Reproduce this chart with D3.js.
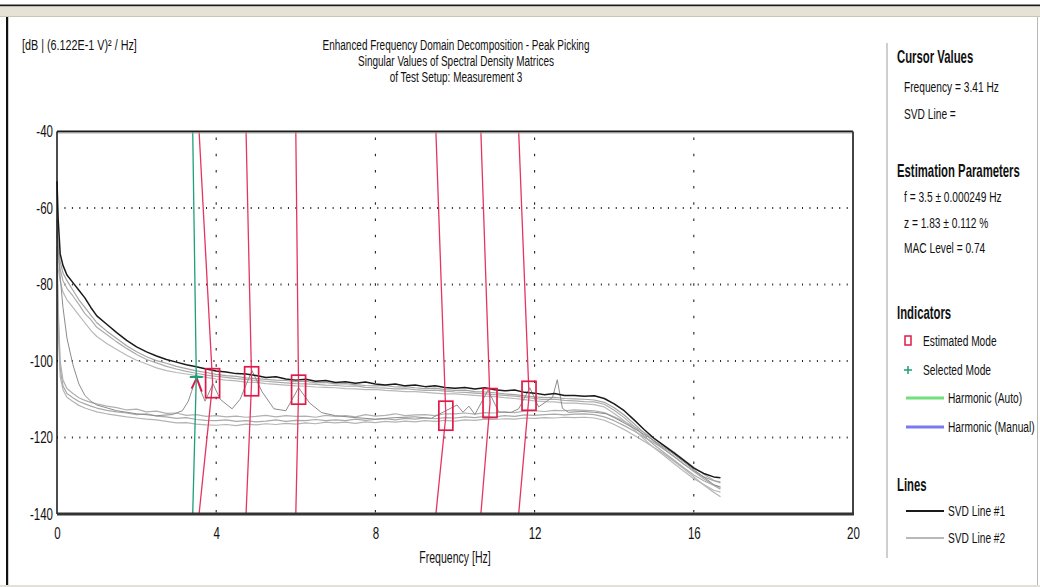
<!DOCTYPE html>
<html>
<head>
<meta charset="utf-8">
<script src="https://cdn.jsdelivr.net/npm/d3@7"></script>
<style>
  html, body { margin: 0; padding: 0; background: #fff; }
  svg { display: block; }
  text { font-family: "Liberation Sans", Arial, sans-serif; fill: #111; }
</style>
</head>
<body>
<svg id="chart" width="1040" height="587"></svg>
<script>
// ---- Frequency grid shared by the SVD lines (Hz) ----
const freqHz = [0, 0.03, 0.08, 0.15, 0.25, 0.4, 0.55, 0.7, 0.85,
  1, 1.25, 1.5, 1.75, 2, 2.25, 2.5, 2.75, 3, 3.25, 3.5, 3.75,
  4, 4.25, 4.5, 4.75, 5, 5.25, 5.5, 5.75, 6, 6.25, 6.5, 6.75,
  7, 7.25, 7.5, 7.75, 8, 8.25, 8.5, 8.75, 9, 9.25, 9.5, 9.75,
  10, 10.25, 10.5, 10.75, 11, 11.25, 11.5, 11.75, 12, 12.25, 12.5, 12.75,
  13, 13.25, 13.5, 13.75, 14, 14.25, 14.5, 14.75, 15, 15.25, 15.5, 15.75,
  16, 16.25, 16.5, 16.67];

// SVD line #1 (first singular value), dB
const svd1Db = [-53, -63, -72, -75, -77.5, -79.5, -81.5, -83.5, -86,
  -88.2, -90.4, -92.6, -94.6, -96.3, -97.6, -98.7, -99.6, -100.3, -101, -101.5, -102.1,
  -102.6, -102.9, -103.3, -103.4, -103.8, -104.3, -104.1, -104.7, -105, -104.8, -105.3, -105.1,
  -105.6, -105.4, -105.8, -105.5, -106, -106.3, -106, -106.5, -106.3, -106.7, -106.5, -106.9,
  -107.1, -106.9, -107.3, -107, -107.5, -107.8, -107.6, -108.2, -108.4, -108.8, -108.5, -109,
  -109, -109.2, -109.1, -109.8, -111.2, -113, -115.4, -117.9, -120.2, -122.1, -124, -126,
  -128, -129.4, -130.3, -130.5];

// Further singular values (SVD line #2 style), dB
const svdUpperA = [-63, -70, -74, -77, -79, -81.5, -84, -86, -88,
  -90, -92.2, -94.1, -96, -97.6, -98.9, -99.9, -100.6, -101.4, -102, -102.6, -103,
  -103.5, -103.8, -104, -104.4, -104.6, -104.8, -105, -105.1, -105.4, -105.3, -105.7, -105.6,
  -106, -105.9, -106.2, -106.4, -106.5, -106.4, -106.8, -106.7, -107, -107.2, -107.1, -107.5,
  -107.7, -107.6, -108, -108.1, -108.3, -108.6, -108.8, -109.1, -109.4, -109.6, -109.5, -109.8,
  -109.9, -110, -110.2, -110.8, -112.2, -114.1, -116.4, -118.8, -121, -123, -125, -127,
  -128.7, -130.3, -131.3, -131.6];
const svdUpperB = [-67, -73, -76, -79, -81, -83, -85.2, -87.6, -89.2,
  -91.2, -93.1, -95, -96.7, -98.3, -99.6, -100.5, -101.4, -102.1, -102.7, -103.2, -103.7,
  -104, -104.3, -104.6, -104.8, -105.1, -105.3, -105.5, -105.7, -105.9, -106, -106.1, -106.3,
  -106.4, -106.6, -106.5, -106.9, -107, -107.1, -107.3, -107.2, -107.5, -107.7, -107.6, -107.9,
  -108.1, -108.2, -108.4, -108.6, -108.8, -109, -109.2, -109.5, -109.8, -110.1, -110, -110.3,
  -110.4, -110.6, -110.7, -111.3, -112.9, -114.8, -117.1, -119.6, -121.9, -123.9, -125.9, -127.9,
  -129.8, -131.3, -132.5, -132.9];
const svdUpperC = [-71, -76, -79, -82, -84, -86, -88, -90, -92,
  -93.6, -95.4, -97, -98.5, -99.8, -100.8, -101.8, -102.5, -103, -103.4, -103.8, -104.3,
  -104.7, -105, -105.2, -105.5, -105.6, -105.9, -106.1, -106.3, -106.5, -106.6, -106.8, -106.9,
  -107, -107.2, -107.3, -107.5, -107.4, -107.7, -107.8, -108, -108, -108.2, -108.4, -108.6,
  -108.6, -108.8, -109, -109.2, -109.3, -109.6, -109.8, -110.1, -110.4, -110.6, -110.7, -111,
  -111, -111.2, -111.4, -112, -113.7, -115.6, -117.9, -120.4, -122.7, -124.7, -126.8, -128.8,
  -130.8, -132.3, -133.8, -134.3];
const svdLowerA = [-70, -86, -100, -105, -107.2, -108.5, -109.6, -110.3, -110.8,
  -111.2, -111.8, -112.2, -112.8, -112.6, -113.3, -113.1, -113.7, -113.6, -114.2, -114, -114.5,
  -114.3, -114.6, -114.4, -114.7, -114.5, -114.2, -114.6, -114.3, -114.5, -114.4, -114.7, -114.2,
  -114.5, -114.3, -114.6, -114, -114.4, -114.2, -113.8, -114.3, -114.1, -114, -114.3, -113.8,
  -113.8, -113.6, -113.9, -113.5, -113.6, -113.3, -113.5, -113.1, -113, -113.2, -112.9, -113,
  -112.8, -112.9, -113, -113.5, -114.6, -115.8, -117.2, -118.7, -120.3, -122, -123.8, -125.8,
  -127.8, -129.6, -131.2, -131.9];
const svdLowerB = [-72, -89, -102, -106.5, -108.5, -109.6, -110.6, -111.2, -111.8,
  -112.3, -112.9, -113.3, -113.6, -114, -113.8, -114.4, -114.6, -115, -114.8, -115.3, -115.5,
  -115.6, -115.4, -115.8, -115.6, -115.9, -115.7, -115.4, -115.8, -115.5, -115.6, -115.3, -115.6,
  -115.4, -115.6, -115.2, -115.5, -115.3, -115.1, -115.4, -115, -115.2, -114.9, -115.1, -114.8,
  -114.9, -114.6, -114.8, -114.5, -114.6, -114.3, -114.5, -114.1, -114.2, -114, -113.9, -114.1,
  -113.9, -113.8, -114, -114.6, -115.6, -116.9, -118.3, -119.9, -121.4, -123.1, -124.9, -126.9,
  -128.9, -130.8, -132.5, -133.5];
const svdLowerC = [-74, -92, -104, -107.5, -109.5, -110.6, -111.6, -112.3, -112.8,
  -113.3, -113.8, -114.2, -114.6, -114.9, -115.2, -115.4, -115.8, -116.2, -116.1, -116.5, -116.7,
  -116.8, -116.6, -116.9, -116.5, -116.7, -116.4, -116.6, -116.3, -116.5, -116.2, -116.4, -116,
  -116.2, -116, -116.3, -115.9, -116.1, -115.8, -116, -115.7, -115.9, -115.6, -115.8, -115.5,
  -115.7, -115.4, -115.5, -115.2, -115.3, -115.1, -115.2, -114.9, -115, -114.8, -114.9, -114.7,
  -114.8, -114.7, -114.9, -115.5, -116.6, -117.9, -119.4, -121, -122.6, -124.3, -126.2, -128.2,
  -130.3, -132.4, -134.3, -135.5];

// Singular value line carrying the mode peaks (own frequency grid)
const peakLineHz = [0, 0.08, 0.15, 0.25, 0.4, 0.55, 0.7, 0.85, 1.0,
  1.5, 2.0, 2.5, 2.9, 3.15, 3.3, 3.38, 3.5, 3.62, 3.72,
  3.92, 4.1, 4.4, 4.6, 4.9, 5.15, 5.45, 5.75, 6.07, 6.35,
  6.65, 7.0, 7.5, 8.0, 8.5, 9.0, 9.4, 9.77, 10.05, 10.2,
  10.35, 10.5, 10.83, 11.1, 11.4, 11.6, 11.88, 12.1, 12.45, 12.57,
  12.7, 12.85, 13.2, 13.5, 13.8,
  14.0, 14.5, 15, 15.5, 16, 16.5, 16.67];
const peakLineDb = [-66, -78, -86, -94, -101, -106, -109, -110.5, -111.5,
  -113, -113.8, -114.3, -114, -113, -110.5, -108, -104.5, -108, -110.5,
  -106, -110, -112.5, -110, -102.5, -108, -112.5, -113, -107, -111,
  -113.5, -114.3, -114.8, -115.2, -114.8, -114.6, -115, -113, -111.5, -113.4,
  -111.8, -114, -107.6, -113.3, -113.5, -112.5, -107, -112, -109.5, -104.9,
  -112.4, -113.4, -113.2, -113.4, -113.8,
  -114.8, -117.6, -120.8, -124.4, -128.4, -132.3, -133];

// Selected peak (highlighted part of the peak line)
const selectedPeakHz = [3.38, 3.51, 3.64];
const selectedPeakDb = [-107.2, -104.4, -108];

// Estimated modes: peak frequency / level and where each indicator meets the frame
const modeHz = [3.91, 4.89, 6.07, 9.77, 10.88, 11.86];
const modeDb = [-105.8, -105.3, -107.5, -114.3, -111.0, -109.1];
const modeBaseHz = [3.57, 4.75, 6.0, 9.52, 10.65, 11.6];

// Selected mode cursor
const cursorBaseHz = 3.41;
const selectedHz = 3.5;
const selectedDb = -104.2;

// Axis ticks
const xTicks = [0, 4, 8, 12, 16, 20];
const yTicks = [-40, -60, -80, -100, -120, -140];
const gridX = [4, 8, 12, 16];
const gridY = [-60, -80, -100, -120];

const titleLines = [
  "Enhanced Frequency Domain Decomposition - Peak Picking",
  "Singular Values of Spectral Density Matrices",
  "of Test Setup: Measurement 3"
];

// ---------------------------------------------------------------
const svg = d3.select("#chart");
const SX = 0.68; // horizontal compression of the narrow UI font

function label(parent, px, py, s, o = {}) {
  const t = parent.append("text")
    .attr("transform", `translate(${px},${py}) scale(${o.sx || SX},1)`)
    .attr("text-anchor", o.anchor || "start")
    .attr("font-size", o.size || 15)
    .attr("font-weight", o.weight || "normal")
    .text(s);
  if (o.fill) t.style("fill", o.fill);
  return t;
}

// window frame
svg.append("rect").attr("x", 0).attr("y", 4.5).attr("width", 1040).attr("height", 2).attr("fill", "#1c1c1c");
svg.append("rect").attr("x", 0).attr("y", 6.5).attr("width", 1040).attr("height", 9.5).attr("fill", "#e6e3d6");
svg.append("rect").attr("x", 0).attr("y", 16).attr("width", 1040).attr("height", 1).attr("fill", "#c9c6b9");
svg.append("rect").attr("x", 6).attr("y", 17).attr("width", 2.2).attr("height", 568).attr("fill", "#111");
svg.append("rect").attr("x", 0).attr("y", 585).attr("width", 1040).attr("height", 2).attr("fill", "#e2e0d8");
svg.append("rect").attr("x", 1037).attr("y", 17).attr("width", 1).attr("height", 568).attr("fill", "#b8b8b8");
svg.append("rect").attr("x", 886.5).attr("y", 43).attr("width", 1).attr("height", 515).attr("fill", "#a0a0a0");

// scales
const x = d3.scaleLinear().domain([0, 20]).range([57, 853]);
const y = d3.scaleLinear().domain([-140, -40]).range([514, 131.5]);

// titles
titleLines.forEach((s, i) => label(svg, 456, 50 + i * 16, s, { anchor: "middle", size: 15, sx: 0.665 }));
label(svg, 22, 50, "[dB | (6.122E-1 V)\u00b2 / Hz]", { size: 15, sx: 0.72 });

// grid
const grid = svg.append("g");
grid.selectAll("line.gy").data(gridY).join("line")
  .attr("x1", x(0)).attr("x2", x(20))
  .attr("y1", d => y(d)).attr("y2", d => y(d))
  .attr("stroke", "#222").attr("stroke-width", 2.2)
  .attr("stroke-dasharray", "1 6.45");
grid.selectAll("line.gx").data(gridX).join("line")
  .attr("x1", d => x(d)).attr("x2", d => x(d))
  .attr("y1", y(-40) + 6).attr("y2", y(-140))
  .attr("stroke", "#222").attr("stroke-width", 1.1)
  .attr("stroke-dasharray", "2.5 13.7");

// curves
const line = d3.line().x(d => x(d[0])).y(d => y(d[1]));
const plot = svg.append("g");
const greyLines = [svdLowerC, svdLowerB, svdLowerA, svdUpperC, svdUpperB, svdUpperA];
const greyCols = ["#b4b4b4", "#a9a9a9", "#b0b0b0", "#b8b8b8", "#acacac", "#a4a4a4"];
greyLines.forEach((vals, i) => {
  plot.append("path").datum(freqHz.map((f, j) => [f, vals[j]]))
    .attr("d", line).attr("fill", "none")
    .attr("stroke", greyCols[i]).attr("stroke-width", 1.2).attr("stroke-linejoin", "round");
});
plot.append("path").datum(peakLineHz.map((f, j) => [f, peakLineDb[j]]))
  .attr("d", line).attr("fill", "none")
  .attr("stroke", "#8c8c8c").attr("stroke-width", 1).attr("stroke-linejoin", "round");
plot.append("path").datum(freqHz.map((f, j) => [f, svd1Db[j]]))
  .attr("d", line).attr("fill", "none")
  .attr("stroke", "#1a1a1a").attr("stroke-width", 1.5).attr("stroke-linejoin", "round");

// selected peak highlight
plot.append("path").datum(selectedPeakHz.map((f, j) => [f, selectedPeakDb[j]]))
  .attr("d", line).attr("fill", "none").attr("stroke", "#e0184a").attr("stroke-width", 1.8);

// mode indicator lines
modeHz.forEach((f, i) => {
  plot.append("path")
    .datum([[modeBaseHz[i], -40], [f, modeDb[i]], [modeBaseHz[i], -140]])
    .attr("d", line).attr("fill", "none")
    .attr("stroke", "#e63462").attr("stroke-width", 1.3);
});
plot.append("path")
  .datum([[cursorBaseHz, -40], [selectedHz, selectedDb], [cursorBaseHz, -140]])
  .attr("d", line).attr("fill", "none")
  .attr("stroke", "#1e9f78").attr("stroke-width", 1.3);

// estimated mode boxes
plot.selectAll("rect.mode").data(modeHz.map((f, i) => [f, modeDb[i]])).join("rect")
  .attr("x", d => x(d[0]) - 7).attr("y", d => y(d[1]) - 14.5)
  .attr("width", 14).attr("height", 29)
  .attr("fill", "none").attr("stroke", "#e01a48").attr("stroke-width", 1.7);

// selected mode cross
plot.append("path")
  .attr("d", `M${x(selectedHz) - 6.5},${y(selectedDb)}H${x(selectedHz) + 6.5}M${x(selectedHz)},${y(selectedDb) - 3}V${y(selectedDb) + 3}`)
  .attr("stroke", "#1e9f78").attr("stroke-width", 2);

// plot frame
const frame = svg.append("g");
frame.append("line").attr("x1", x(0)).attr("x2", x(20)).attr("y1", y(-40)).attr("y2", y(-40))
  .attr("stroke", "#1a1a1a").attr("stroke-width", 2);
frame.append("line").attr("x1", x(0)).attr("x2", x(20)).attr("y1", y(-40) + 1.5).attr("y2", y(-40) + 1.5)
  .attr("stroke", "#aaa").attr("stroke-width", 1);
frame.append("line").attr("x1", x(0)).attr("x2", x(0)).attr("y1", y(-40)).attr("y2", y(-140))
  .attr("stroke", "#111").attr("stroke-width", 1.5);
frame.append("line").attr("x1", x(20)).attr("x2", x(20)).attr("y1", y(-40)).attr("y2", y(-140))
  .attr("stroke", "#444").attr("stroke-width", 2);
frame.append("line").attr("x1", x(0)).attr("x2", x(20) + 1).attr("y1", y(-140)).attr("y2", y(-140))
  .attr("stroke", "#333").attr("stroke-width", 2.8);

// axes (plain hyphen for negative numbers)
const fmt = d => String(d);
const xAxis = svg.append("g").attr("transform", `translate(0,${y(-140)})`)
  .call(d3.axisBottom(x).tickValues(xTicks).tickSize(0).tickPadding(13).tickFormat(fmt));
xAxis.select(".domain").remove();
xAxis.selectAll("text").attr("font-size", 17).attr("font-family", "Liberation Sans, Arial, sans-serif")
  .attr("transform", `scale(${SX},1)`).attr("x", 0).style("fill", "#111");

const yAxis = svg.append("g").attr("transform", `translate(${x(0)},0)`)
  .call(d3.axisLeft(y).tickValues(yTicks).tickSize(0).tickPadding(4).tickFormat(fmt));
yAxis.select(".domain").remove();
yAxis.selectAll("text").attr("font-size", 17).attr("font-family", "Liberation Sans, Arial, sans-serif")
  .attr("x", -4 / SX).attr("transform", `scale(${SX},1)`).style("fill", "#111");

label(svg, 455, 563, "Frequency [Hz]", { anchor: "middle", size: 17, sx: 0.62 });

// side panel
const P = svg.append("g");
const HS = 0.63;
label(P, 897, 63, "Cursor Values", { size: 18, weight: "bold", sx: HS });
label(P, 904, 92, "Frequency = 3.41 Hz", { size: 15 });
label(P, 904, 119, "SVD Line =", { size: 15 });
label(P, 897, 177, "Estimation Parameters", { size: 18, weight: "bold", sx: HS });
label(P, 904, 202, "f = 3.5 \u00b1 0.000249 Hz", { size: 15 });
label(P, 904, 228, "z = 1.83 \u00b1 0.112 %", { size: 15 });
label(P, 904, 253, "MAC Level = 0.74", { size: 15 });
label(P, 897, 319, "Indicators", { size: 18, weight: "bold", sx: HS });
P.append("rect").attr("x", 905).attr("y", 336).attr("width", 6).attr("height", 9)
  .attr("fill", "none").attr("stroke", "#e01a48").attr("stroke-width", 1.5);
label(P, 923, 346, "Estimated Mode", { size: 15 });
P.append("path").attr("d", "M904,370H912M908,366V374").attr("stroke", "#1e9f78").attr("stroke-width", 1.5);
label(P, 923, 375, "Selected Mode", { size: 15 });
P.append("line").attr("x1", 906).attr("x2", 944).attr("y1", 398).attr("y2", 398)
  .attr("stroke", "#72e07a").attr("stroke-width", 3);
label(P, 948, 403, "Harmonic (Auto)", { size: 15 });
P.append("line").attr("x1", 906).attr("x2", 944).attr("y1", 427).attr("y2", 427)
  .attr("stroke", "#7a7af0").attr("stroke-width", 3);
label(P, 948, 432, "Harmonic (Manual)", { size: 15 });
label(P, 897, 491, "Lines", { size: 18, weight: "bold", sx: HS });
P.append("line").attr("x1", 906).attr("x2", 944).attr("y1", 511).attr("y2", 511)
  .attr("stroke", "#1a1a1a").attr("stroke-width", 2);
label(P, 948, 516, "SVD Line #1", { size: 15 });
P.append("line").attr("x1", 906).attr("x2", 944).attr("y1", 538).attr("y2", 538)
  .attr("stroke", "#b8b8b8").attr("stroke-width", 2);
label(P, 948, 543, "SVD Line #2", { size: 15 });
</script>
</body>
</html>
